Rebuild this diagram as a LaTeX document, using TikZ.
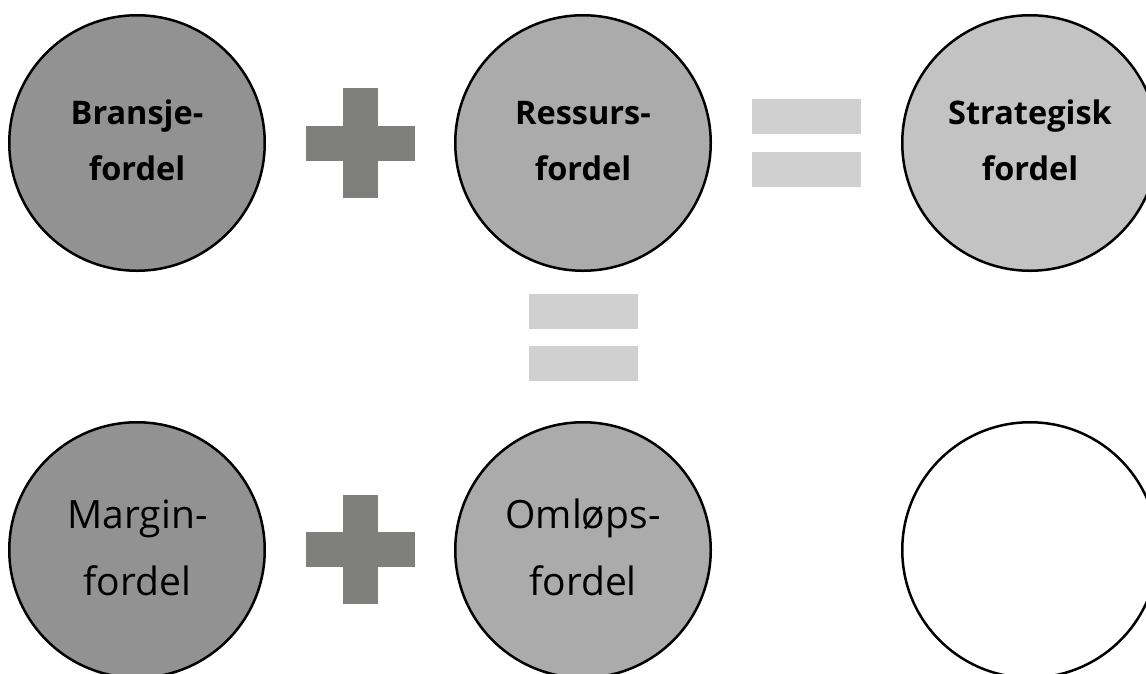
\documentclass[tikz,border=0pt]{standalone}
\usepackage{fontspec}
\setmainfont{Open Sans}
\definecolor{cA}{HTML}{929292}
\definecolor{cB}{HTML}{ABABAB}
\definecolor{cC}{HTML}{C3C3C3}
\definecolor{plusc}{HTML}{7F7F7D}
\definecolor{eqc}{HTML}{D0D0D0}
\tikzset{
  circ/.style={circle, draw=black, line width=2.5pt, minimum size=255.5pt, inner sep=0pt, outer sep=0pt},
  boldtxt/.style={anchor=base, inner sep=0pt, font=\bfseries\fontsize{32.5}{40}\selectfont},
  regtxt/.style={anchor=base, inner sep=0pt, font=\fontsize{39}{46}\selectfont},
  plusbar/.style={rectangle, fill=plusc, draw=none, inner sep=0pt, outer sep=0pt},
  eqbar/.style={rectangle, fill=eqc, draw=none, inner sep=0pt, outer sep=0pt, minimum width=109pt, minimum height=35pt},
}
\begin{document}
\begin{tikzpicture}[x=1pt,y=-1pt]
\useasboundingbox (0,0) rectangle (1146,673);
\clip (0,0) rectangle (1146,673);
% circles
\node[circ, fill=cA] (bransje) at (137,143) {};
\node[circ, fill=cB] (ressurs) at (583,143) {};
\node[circ, fill=cC] (strategisk) at (1030,143) {};
\node[circ, fill=cA] (margin) at (137,550) {};
\node[circ, fill=cB] (omlops) at (583,550) {};
\node[circ, fill=white] (tom) at (1030,550) {};
% texts
\node[boldtxt] (bransjeA) at (137,124) {Bransje-};
\node[boldtxt] (bransjeB) at (137,180) {fordel};
\node[boldtxt] (ressursA) at (583,124) {Ressurs-};
\node[boldtxt] (ressursB) at (583,180) {fordel};
\node[boldtxt] (strategiskA) at (1030,124) {Strategisk};
\node[boldtxt] (strategiskB) at (1030,180) {fordel};
\node[regtxt] (marginA) at (137.5,528) {Margin-};
\node[regtxt] (marginB) at (137.5,595) {fordel};
\node[regtxt] (omlopsA) at (583,528) {Omløps-};
\node[regtxt] (omlopsB) at (583,595) {fordel};
% plus signs
\node[plusbar, minimum width=109pt, minimum height=35pt] (plusAh) at (360.5,143.5) {};
\node[plusbar, minimum width=35pt, minimum height=110pt] (plusAv) at (360.5,143) {};
\node[plusbar, minimum width=109pt, minimum height=35pt] (plusBh) at (360.5,549.5) {};
\node[plusbar, minimum width=35pt, minimum height=109pt] (plusBv) at (360.5,549.5) {};
% equals signs
\node[eqbar] (eqAtop) at (806.5,116.5) {};
\node[eqbar] (eqAbot) at (806.5,169.5) {};
\node[eqbar] (eqBtop) at (583,311.5) {};
\node[eqbar] (eqBbot) at (583,363.5) {};
\end{tikzpicture}
\end{document}
